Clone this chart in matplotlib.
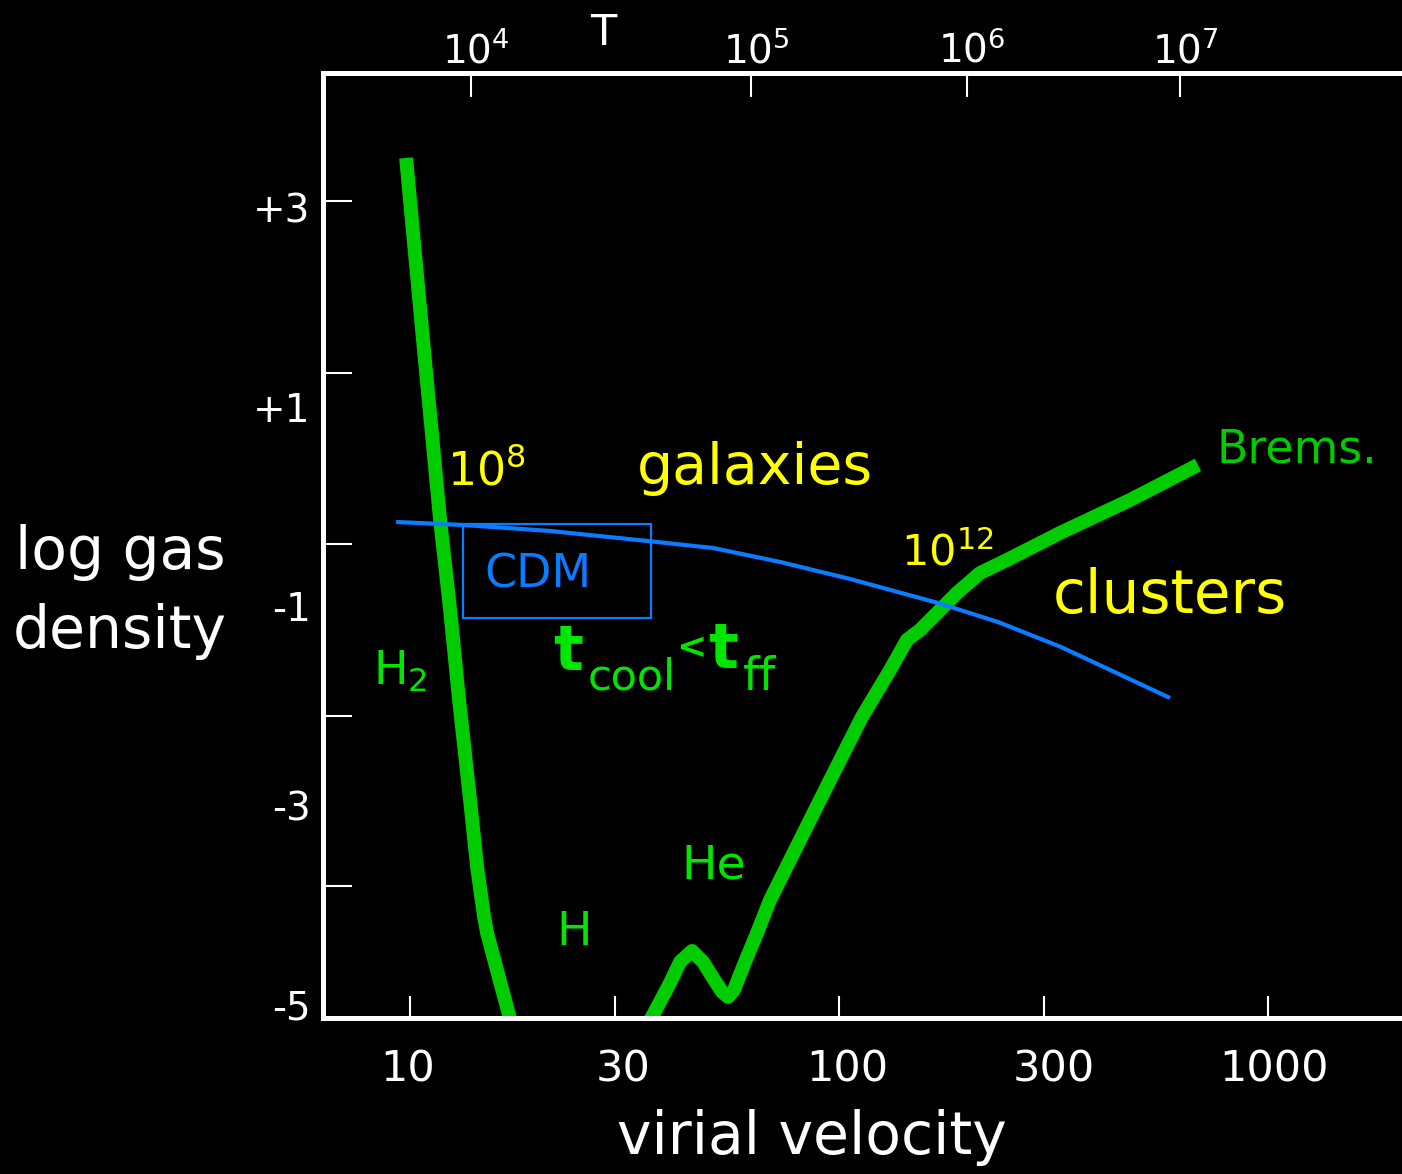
import matplotlib
matplotlib.use("Agg")
import matplotlib.pyplot as plt
from matplotlib.ticker import NullLocator
from matplotlib.patches import Rectangle
from matplotlib.transforms import ScaledTranslation

plt.rcParams["font.family"] = ["DejaVu Sans"]

# cooling curve (virial velocity, log gas density), two visible pieces
cool_v_low = [9.79, 10.72, 11.75, 12.40, 13.01, 13.80, 14.33, 14.88, 15.12, 15.87, 16.65, 17.01, 17.38]
cool_y_low = [3.502, 1.675, -0.133, -1.036, -1.940, -2.944, -3.616, -4.118, -4.279, -4.620, -4.952,
              -5.102, -5.253]
cool_v_high = [34.92, 36.65, 40.37, 42.60, 45.43, 48.19, 50.85, 53.38, 55.12, 56.91, 59.73, 64.41,
               69.06, 76.88, 95.29, 113.1, 131.5, 144.0, 154.5, 169.2, 188.4, 213.2, 246.4, 327.5,
               476.9, 686.8]
cool_y_high = [-5.273, -5.122, -4.781, -4.570, -4.460, -4.570, -4.731, -4.871, -4.922, -4.851, -4.620,
               -4.279, -3.948, -3.546, -2.743, -2.110, -1.639, -1.337, -1.237, -1.066, -0.865, -0.665,
               -0.534, -0.263, 0.068, 0.420]

# CDM halo line
cdm_v = [9.28, 13.29, 21.20, 35.68, 50.85, 72.87, 106.1, 170.2, 234.8, 329.2, 591.0]
cdm_y = [-0.153, -0.183, -0.243, -0.343, -0.414, -0.554, -0.725, -0.966, -1.157, -1.408, -1.920]

# CDM box: (v0, v1), (y0, y1)
box_v = [13.29, 36.47]
box_y = [-1.116, -0.173]

# axes ticks
v_ticks = [10, 30, 100, 300, 1000]
v_labels = ["10", "30", "100", "300", "1000"]
y_labels_at = [3, 1, -1, -3, -5]
y_labels = ["+3", "+1", "-1", "-3", "-5"]
y_marks = [3.07, 1.343, -0.373, -2.100, -3.807]
T_vel = [13.87, 62.35, 198.8, 623.7]
T_labels = [r"$\mathregular{10^4}$", r"$\mathregular{10^5}$", r"$\mathregular{10^6}$", r"$\mathregular{10^7}$"]

GREEN = "#00cc00"
TGREEN = "#00e600"
YELLOW = "#ffff00"
BLUE = "#0a7cff"

fig = plt.figure(figsize=(14.02, 11.74), dpi=100, facecolor="black")
ax = fig.add_axes([0.2304, 0.1329, 0.7696, 0.8049])
ax.set_facecolor("black")
ax.set_xscale("log")
ax.set_xlim(6.268, 2053)
ax.set_ylim(-5.133, 4.355)

ax.plot(cool_v_low, cool_y_low, color=GREEN, lw=10, solid_capstyle="butt", solid_joinstyle="round")
ax.plot(cool_v_high, cool_y_high, color=GREEN, lw=10, solid_capstyle="butt", solid_joinstyle="round")
ax.plot(cdm_v, cdm_y, color=BLUE, lw=3, solid_capstyle="butt")
ax.add_patch(Rectangle((box_v[0], box_y[0]), box_v[1] - box_v[0], box_y[1] - box_y[0],
                       fill=False, edgecolor=BLUE, lw=1.6))

# spines
for side in ["left", "bottom", "top"]:
    ax.spines[side].set_color("white")
    ax.spines[side].set_linewidth(3.6)
    ax.spines[side].set_zorder(5)
ax.spines["right"].set_visible(False)

# x ticks (labels sit a little right of their ticks in the original)
ax.xaxis.set_minor_locator(NullLocator())
ax.set_xticks(v_ticks, labels=v_labels)
ax.tick_params(axis="x", which="major", direction="in", length=16, width=1.5, color="white",
               labelcolor="white", labelsize=31, pad=22, top=False)
for lbl, dx in zip(ax.get_xticklabels(), [-2, 8, 8, 10, 6]):
    lbl.set_transform(lbl.get_transform() + ScaledTranslation(dx / 100, 0, fig.dpi_scale_trans))

# y: labels and tick marks sit at different heights in the original
ax.set_yticks(y_labels_at, labels=y_labels)
ax.set_yticks(y_marks, minor=True)
ax.tick_params(axis="y", which="major", length=0, labelcolor="white", labelsize=28, pad=9)
ax.tick_params(axis="y", which="minor", direction="in", length=21, width=1.5, color="white")

# top temperature axis
ax2 = ax.twiny()
ax2.set_xscale("log")
ax2.set_xlim(ax.get_xlim())
ax2.xaxis.set_minor_locator(NullLocator())
ax2.set_xticks(T_vel, labels=T_labels)
ax2.tick_params(axis="x", direction="in", length=17, width=1.5, color="white",
                labelcolor="white", labelsize=28, pad=2)
for lbl in ax2.get_xticklabels():
    lbl.set_transform(lbl.get_transform() + ScaledTranslation(5 / 100, 0, fig.dpi_scale_trans))
for s in ax2.spines.values():
    s.set_visible(False)

# annotations
ax.text(15.04, 0.349, r"$\mathregular{10^8}$", color=YELLOW, fontsize=33, ha="center", va="center")
ax.text(63.7, 0.38, "galaxies", color=YELLOW, fontsize=41, ha="center", va="center")
ax.text(178.5, -0.464, r"$\mathregular{10^{12}}$", color=YELLOW, fontsize=31, ha="center", va="center")
ax.text(591, -0.906, "clusters", color=YELLOW, fontsize=43, ha="center", va="center")
ax.text(1168, 0.57, "Brems.", color=GREEN, fontsize=33, ha="center", va="center")
ax.text(9.48, -1.659, r"$\mathregular{H_2}$", color=TGREEN, fontsize=33, ha="center", va="center")
ax.text(51.1, -3.606, "He", color=TGREEN, fontsize=34, ha="center", va="center")
ax.text(24.12, -4.279, "H", color=TGREEN, fontsize=34, ha="center", va="center")
ax.text(19.88, -0.685, "CDM", color=BLUE, fontsize=33, ha="center", va="center")

# t_cool < t_ff, built from pieces so the subscripts stay large
ax.text(21.54, -1.639, "t", color=TGREEN, fontsize=45, ha="left", va="baseline", fontweight="bold")
ax.text(25.99, -1.839, "cool", color=TGREEN, fontsize=31, ha="left", va="baseline")
ax.text(45.3, -1.42, "<", color=TGREEN, fontsize=26, ha="center", va="center", fontweight="bold")
ax.text(49.51, -1.618, "t", color=TGREEN, fontsize=45, ha="left", va="baseline", fontweight="bold")
ax.text(59.73, -1.839, "ff", color=TGREEN, fontsize=34, ha="left", va="baseline")

fig.text(603 / 1402, 1 - 33 / 1174, "T", color="white", fontsize=31, ha="center", va="center")
fig.text(120 / 1402, 1 - 592 / 1174, "log gas\ndensity", color="white", fontsize=42,
         ha="center", va="center", linespacing=1.5)
fig.text(812 / 1402, 1 - 1138 / 1174, "virial velocity", color="white", fontsize=42,
         ha="center", va="center")

fig.savefig("out.png", dpi=100, facecolor="black")
